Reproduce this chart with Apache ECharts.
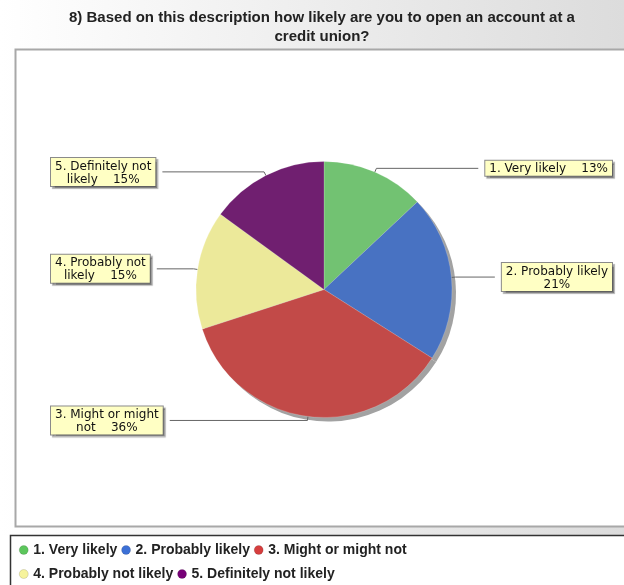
<!DOCTYPE html>
<html><head><meta charset="utf-8">
<script src="https://cdn.jsdelivr.net/npm/echarts@6/dist/echarts.min.js"></script>
<style>html,body{margin:0;padding:0;background:#fff}#c{width:624px;height:585px}</style>
</head><body><div id="c"></div>
<script>
const titleLines = ['8) Based on this description how likely are you to open an account at a', 'credit union?'];
const categories = ['1. Very likely', '2. Probably likely', '3. Might or might not', '4. Probably not likely', '5. Definitely not likely'];
const values = [13, 21, 36, 15, 15];
const labelWrapped = [['1. Very likely'], ['2. Probably likely', ''], ['3. Might or might', 'not'], ['4. Probably not', 'likely'], ['5. Definitely not', 'likely']];
const sliceColors = ['#72c272', '#4872c2', '#c24a48', '#ece99a', '#701f70'];
const legendColors = ['#5cc65c', '#3c70d6', '#d63e3e', '#f6f39c', '#760076'];

const chart = echarts.init(document.getElementById('c'), null, {renderer: 'canvas'});
const labelFont = 'DejaVu Sans';

function labelFormatter(p) {
  const lines = labelWrapped[p.dataIndex].slice();
  const pct = Math.round(p.percent) + '%';
  const last = lines.length - 1;
  lines[last] = lines[last] === '' ? pct : lines[last] + '    ' + pct;
  return lines.map(l => '{c|' + l + '}').join('\n');
}

const titleStyle = {fontFamily: 'Liberation Sans', fontWeight: 'bold', fontSize: 15, lineHeight: 18, color: '#222'};

const option = {
  animation: false,
  backgroundColor: 'transparent',
  title: titleLines.map((t, i) => ({
    text: t, left: '51.6%', textAlign: 'center', top: 9 + i * 19, padding: 0, textStyle: titleStyle
  })),
  graphic: [
    {type: 'rect', z: -10, silent: true, shape: {x: 0, y: 0, width: 624, height: 536},
     style: {fill: {type: 'linear', x: 0, y: 0, x2: 1, y2: 0, colorStops: [{offset: 0, color: '#ffffff'}, {offset: 1, color: '#dcdcdc'}]}}},
    {type: 'rect', z: -9, silent: true, shape: {x: 15.5, y: 49.5, width: 640, height: 477},
     style: {fill: '#ffffff', stroke: '#a8a8a8', lineWidth: 2}},
    {type: 'rect', z: -9, silent: true, shape: {x: 10.5, y: 535.5, width: 640, height: 60},
     style: {fill: '#ffffff', stroke: '#333333', lineWidth: 1.5}}
  ],
  legend: {
    left: 14, top: 535, width: 480,
    itemGap: 4, itemWidth: 9, itemHeight: 9, icon: 'circle',
    selectedMode: false,
    textStyle: {fontFamily: 'Liberation Sans', fontWeight: 'bold', fontSize: 14, lineHeight: 20, color: '#222'},
    data: categories.map((n, i) => ({name: n, itemStyle: {color: legendColors[i], borderColor: 'rgba(0,0,0,0.25)', borderWidth: 0.5}}))
  },
  series: [
    {
      type: 'pie', z: 3,
      left: 41, right: 2, top: 0, bottom: 0,
      center: [283, 289.5], radius: 128,
      startAngle: 90, clockwise: true,
      avoidLabelOverlap: true,
      emphasis: {disabled: true},
      itemStyle: {borderColor: 'rgba(255,255,255,0.35)', borderWidth: 0.5},
      data: categories.map((n, i) => ({name: n, value: values[i], itemStyle: {color: sliceColors[i]}})),
      label: {
        show: true, position: 'outer', alignTo: 'edge', edgeDistance: 10,
        formatter: labelFormatter,
        backgroundColor: '#ffffc4', borderColor: '#8a8a8a', borderWidth: 1,
        padding: [2, 4, 0, 4],
        color: '#111', fontFamily: labelFont, fontSize: 12, lineHeight: 13,
        shadowColor: 'rgba(0,0,0,0.3)', shadowOffsetX: 2, shadowOffsetY: 2, shadowBlur: 1,
        rich: {c: {align: 'center', fontFamily: labelFont, fontSize: 12, lineHeight: 13, color: '#111'}}
      },
      labelLine: {show: true, length: 4, length2: 20, lineStyle: {color: '#666', width: 1}}
    },
    {
      type: 'pie', z: 1, silent: true,
      left: 41, right: 2, top: 0, bottom: 0,
      center: [287, 293.5], radius: 128,
      startAngle: 90, clockwise: true,
      emphasis: {disabled: true},
      itemStyle: {color: '#a2a2a2'},
      data: values.map(v => ({value: v})),
      label: {show: false}, labelLine: {show: false}
    }
  ]
};
chart.setOption(option);
</script></body></html>
